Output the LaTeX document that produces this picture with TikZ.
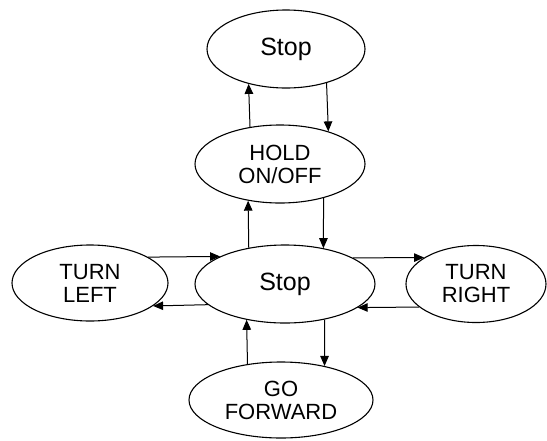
\documentclass[tikz,border=0pt]{standalone}
\usepackage{fontspec}
\setmainfont{Liberation Sans}
\usetikzlibrary{shapes.geometric,arrows.meta}

\begin{document}
\begin{tikzpicture}[x=1pt,y=-1pt,
  state/.style={ellipse,draw,line width=1.1pt,inner sep=0pt,align=center,
    font=\fontsize{22}{23}\selectfont},
  big/.style={font=\fontsize{25}{27}\selectfont},
  arr/.style={line width=1pt,-{Triangle[length=10pt,width=8.5pt]}}]
  \useasboundingbox (0,0) rectangle (547,440);

  % states
  \node[state,big,minimum width=158pt,minimum height=78pt] (top)   at (286,49)  {Stop};
  \node[state,minimum width=170pt,minimum height=78pt]     (hold)  at (280,164) {HOLD\\ON/OFF};
  \node[state,big,minimum width=180pt,minimum height=78pt] (stop)  at (285,284) {Stop};
  \node[state,minimum width=156pt,minimum height=76pt]     (left)  at (90,283)  {TURN\\LEFT};
  \node[state,minimum width=140pt,minimum height=77pt]     (right) at (476,284) {TURN\\RIGHT};
  \node[state,minimum width=184pt,minimum height=76pt]     (go)    at (281,400) {GO\\FORWARD};

  % vertical transitions
  \draw[arr] (hold.129.4) -- (top.223.9);
  \draw[arr] (top.320.9)  -- (hold.34.7);
  \draw[arr] (stop.135.2) -- (hold.229.5);
  \draw[arr] (hold.322)   -- (stop.43);
  \draw[arr] (go.133.9)   -- (stop.223);
  \draw[arr] (stop.318)   -- (go.38);

  % horizontal transitions
  \draw[arr] (left.24.6)   -- (stop.157.4);
  \draw[arr] (stop.195.5)  -- (left.340.9);
  \draw[arr] (stop.21.2)   -- (right.153.3);
  \draw[arr] (right.202.3) -- (stop.342.5);
\end{tikzpicture}
\end{document}
